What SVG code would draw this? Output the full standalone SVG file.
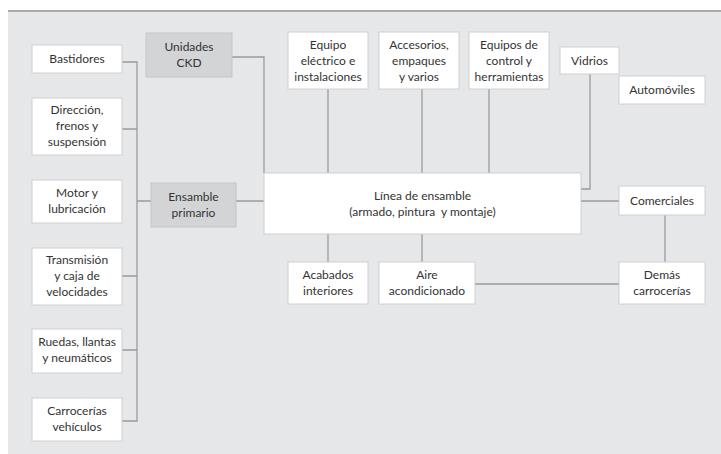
<svg xmlns="http://www.w3.org/2000/svg" width="721" height="454" viewBox="0 0 721 454">
<style>
.box{fill:#ffffff;stroke:#cfd0d2;stroke-width:1}
.gbox{fill:#d3d4d6;stroke:#c4c5c7;stroke-width:1}
.t{font-family:Lato,"Open Sans","Liberation Sans",sans-serif;font-size:12px;fill:#333333;text-anchor:middle;white-space:pre}
.c{fill:none;stroke:#9a9b9d;stroke-width:1.3}
</style>
<rect x="0" y="0" width="721" height="454" fill="#ffffff"/>
<rect x="8" y="11" width="713" height="443" fill="#e6e7e9"/>
<line x1="8" y1="11" x2="721" y2="11" stroke="#a9aaac" stroke-width="2"/>
<g id="connectors">
<path class="c" d="M122 62H137V421H122M122 129H137M122 276H137M122 350H137M137 201H151"/>
<path class="c" d="M232 57H264V173M236 201H264"/>
<path class="c" d="M328 89V173M422 89V173M489 89V173"/>
<path class="c" d="M590 74V189H581M581 201H619M665 215V262"/>
<path class="c" d="M328 234V262M422 234V262M475 284H619"/>
</g>
<g id="n-bastidores"><rect class="box" x="32" y="45" width="90" height="28"/><text class="t" x="77" y="63">Bastidores</text></g>
<g id="n-direccion"><rect class="box" x="32" y="98" width="90" height="57"/><text class="t" x="77" y="114">Dirección,</text><text class="t" x="77" y="130">frenos y</text><text class="t" x="77" y="146">suspensión</text></g>
<g id="n-motor"><rect class="box" x="32" y="180" width="90" height="43"/><text class="t" x="77" y="197">Motor y</text><text class="t" x="77" y="213">lubricación</text></g>
<g id="n-transmision"><rect class="box" x="32" y="248" width="90" height="57"/><text class="t" x="77" y="264">Transmisión</text><text class="t" x="77" y="280">y caja de</text><text class="t" x="77" y="296">velocidades</text></g>
<g id="n-ruedas"><rect class="box" x="32" y="329" width="90" height="44"/><text class="t" x="77" y="346">Ruedas, llantas</text><text class="t" x="77" y="362">y neumáticos</text></g>
<g id="n-carrocerias"><rect class="box" x="32" y="398" width="90" height="43"/><text class="t" x="77" y="415">Carrocerías</text><text class="t" x="77" y="431">vehículos</text></g>
<g id="n-ckd"><rect class="gbox" x="146" y="33" width="86" height="44"/><text class="t" x="189" y="51">Unidades</text><text class="t" x="189" y="67">CKD</text></g>
<g id="n-primario"><rect class="gbox" x="151" y="183" width="85" height="44"/><text class="t" x="193.5" y="201">Ensamble</text><text class="t" x="193.5" y="217">primario</text></g>
<g id="n-linea"><rect class="box" x="264" y="173" width="317" height="61"/><text class="t" x="422.5" y="200">Línea de ensamble</text><text class="t" x="422.5" y="216" xml:space="preserve">(armado, pintura  y montaje)</text></g>
<g id="n-electrico"><rect class="box" x="288" y="32" width="80" height="57"/><text class="t" x="328" y="49">Equipo</text><text class="t" x="328" y="65">eléctrico e</text><text class="t" x="328" y="81">instalaciones</text></g>
<g id="n-accesorios"><rect class="box" x="379" y="32" width="80" height="57"/><text class="t" x="419" y="49">Accesorios,</text><text class="t" x="419" y="65">empaques</text><text class="t" x="419" y="81">y varios</text></g>
<g id="n-control"><rect class="box" x="469" y="32" width="80" height="57"/><text class="t" x="509" y="49">Equipos de</text><text class="t" x="509" y="65">control y</text><text class="t" x="509" y="81">herramientas</text></g>
<g id="n-vidrios"><rect class="box" x="560" y="47" width="59" height="27"/><text class="t" x="589.5" y="65">Vidrios</text></g>
<g id="n-automoviles"><rect class="box" x="619" y="76" width="86" height="28"/><text class="t" x="662" y="94">Automóviles</text></g>
<g id="n-comerciales"><rect class="box" x="619" y="186" width="86" height="29"/><text class="t" x="662" y="205">Comerciales</text></g>
<g id="n-acabados"><rect class="box" x="288" y="262" width="80" height="42"/><text class="t" x="328" y="279">Acabados</text><text class="t" x="328" y="295">interiores</text></g>
<g id="n-aire"><rect class="box" x="379" y="262" width="96" height="42"/><text class="t" x="427" y="279">Aire</text><text class="t" x="427" y="295">acondicionado</text></g>
<g id="n-demas"><rect class="box" x="619" y="262" width="86" height="42"/><text class="t" x="662" y="279">Demás</text><text class="t" x="662" y="295">carrocerías</text></g>
</svg>
